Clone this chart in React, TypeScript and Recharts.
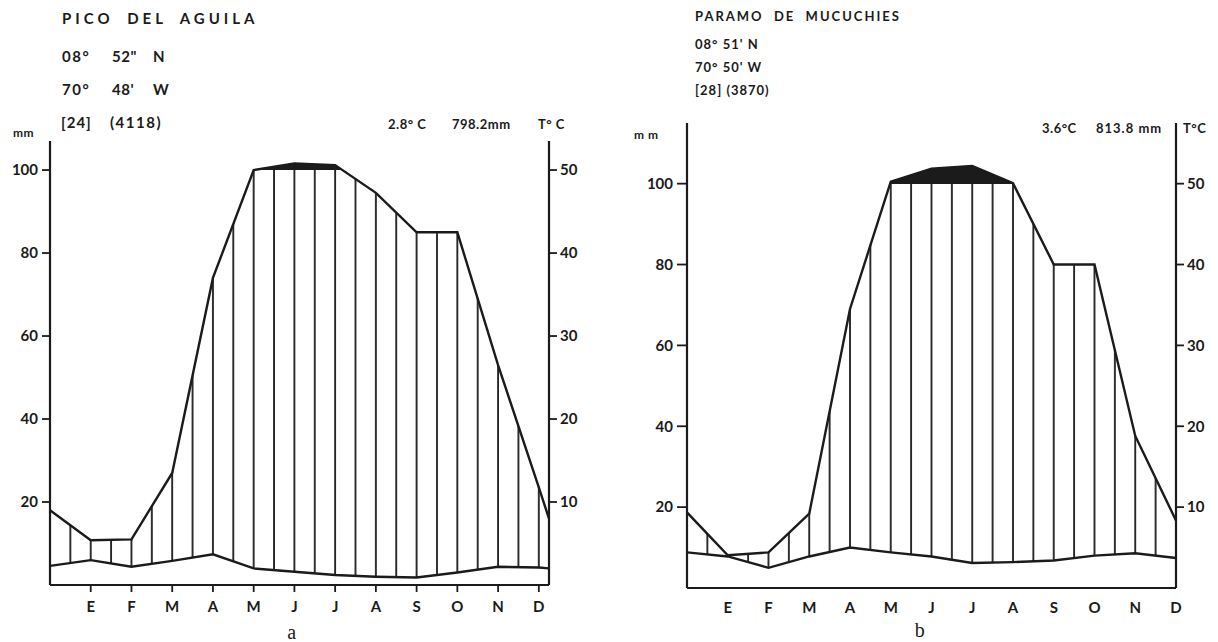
import React from "react";
import { ComposedChart, Area, Line, XAxis, YAxis } from "recharts";

// ---------- shared labels ----------
const MONTH_LABELS = ["E", "F", "M", "A", "M", "J", "J", "A", "S", "O", "N", "D"];
const MONTH_TICKS = [1, 2, 3, 4, 5, 6, 7, 8, 9, 10, 11, 12];
const MM_TICKS = [20, 40, 60, 80, 100];
const TEMP_TICKS = [10, 20, 30, 40, 50];

// ---------- a: Pico del Aguila ----------
// x: 0 = left edge (previous December), 1..12 = E..D, last = right edge
const A_X = [0, 1, 2, 3, 4, 5, 6, 7, 8, 9, 10, 11, 12, 12.25];
const A_PRECIP = [18, 10.8, 11, 27, 74, 100, 116, 112, 94.5, 85, 85, 53, 23.5, 16]; // mm
const A_TEMP = [2.3, 3.0, 2.2, 2.9, 3.7, 2.0, 1.6, 1.2, 1.0, 0.9, 1.5, 2.2, 2.1, 2.0]; // °C

// ---------- b: Paramo de Mucuchies ----------
const B_X = [0, 1, 2, 3, 4, 5, 6, 7, 8, 9, 10, 11, 12];
const B_PRECIP = [18.7, 8.1, 8.8, 18.4, 69, 105, 137, 144, 101, 80, 80, 37.6, 16.7]; // mm
const B_TEMP = [4.4, 3.9, 2.5, 3.9, 5.0, 4.4, 3.9, 3.1, 3.2, 3.4, 4.0, 4.3, 3.7]; // °C

const INK = "#1b1b1b";
const FONT = "Lato, 'DejaVu Sans', sans-serif";

// Walter-Lieth: above 100 mm the precipitation scale is reduced 1:10
const compress = (v: number) => (v <= 100 ? v : 100 + (v - 100) / 10);

type DiagramProps = {
  id: string;
  xs: number[];
  precip: number[];
  temp: number[];
  xMax: number;
  width: number;
  height: number;
  margin: { top: number; right: number; bottom: number; left: number };
  leftW: number;
  rightW: number;
  mmMax: number;
  xTickLine: boolean;
  xTickMargin: number;
  yTickSize: number;
};

function Diagram(props: DiagramProps) {
  const { id, xs, precip, temp, xMax, width, height, margin, leftW, rightW, mmMax, xTickLine, xTickMargin, yTickSize } = props;
  const data = xs.map((x, i) => ({ x, p: compress(precip[i]), t: temp[i], t2: temp[i] * 2 }));
  const plotLeft = margin.left + leftW;
  const plotW = width - margin.left - margin.right - leftW - rightW;
  const half = plotW / xMax / 2;
  const pMax = Math.max(...data.map((d) => d.p));
  const cut = (pMax - 100) / pMax;
  const tickStyle = { fontSize: 15, fontWeight: 700, fill: INK, fontFamily: FONT };
  return (
    <ComposedChart width={width} height={height} data={data} margin={margin}>
      <defs>
        <pattern id={`hatch-${id}`} patternUnits="userSpaceOnUse" x={plotLeft - 1} y={0} width={half} height={height}>
          <line x1={1} y1={0} x2={1} y2={height} stroke={INK} strokeWidth={1.8} />
        </pattern>
        <linearGradient id={`black-${id}`} x1="0" y1="0" x2="0" y2="1">
          <stop offset={0} stopColor={INK} stopOpacity={1} />
          <stop offset={cut} stopColor={INK} stopOpacity={1} />
          <stop offset={cut} stopColor={INK} stopOpacity={0} />
          <stop offset={1} stopColor={INK} stopOpacity={0} />
        </linearGradient>
      </defs>
      <XAxis
        type="number"
        dataKey="x"
        domain={[0, xMax]}
        ticks={MONTH_TICKS}
        interval={0}
        tickFormatter={(v: number) => MONTH_LABELS[v - 1]}
        axisLine={{ stroke: INK, strokeWidth: 2.2 }}
        tickLine={xTickLine ? { stroke: INK, strokeWidth: 1.8 } : false}
        tickSize={7}
        tickMargin={xTickMargin}
        tick={tickStyle}
        height={30}
        allowDataOverflow
      />
      <YAxis
        yAxisId="p"
        orientation="left"
        domain={[0, mmMax]}
        ticks={MM_TICKS}
        interval={0}
        width={leftW}
        axisLine={{ stroke: INK, strokeWidth: 2.2 }}
        tickLine={{ stroke: INK, strokeWidth: 1.8 }}
        tickSize={yTickSize}
        tickMargin={4}
        tick={tickStyle}
        allowDataOverflow
      />
      <YAxis
        yAxisId="t"
        orientation="right"
        domain={[0, mmMax / 2]}
        ticks={TEMP_TICKS}
        interval={0}
        width={rightW}
        axisLine={{ stroke: INK, strokeWidth: 2.2 }}
        tickLine={{ stroke: INK, strokeWidth: 1.8 }}
        tickSize={8}
        tickMargin={3}
        tick={tickStyle}
        allowDataOverflow
      />
      <Area
        yAxisId="p"
        dataKey="p"
        type="linear"
        stroke="none"
        fill={`url(#black-${id})`}
        fillOpacity={1}
        isAnimationActive={false}
      />
      <Area
        yAxisId="p"
        dataKey={(d: any) => [d.t2, d.p]}
        type="linear"
        stroke="none"
        fill={`url(#hatch-${id})`}
        fillOpacity={1}
        isAnimationActive={false}
      />
      <Line yAxisId="p" dataKey="p" type="linear" stroke={INK} strokeWidth={2.4} dot={false} isAnimationActive={false} />
      <Line yAxisId="t" dataKey="t" type="linear" stroke={INK} strokeWidth={2.4} dot={false} isAnimationActive={false} />
    </ComposedChart>
  );
}

type T = { x: number; y: number; s: string; size?: number; ls?: number; ws?: number; anchor?: string; serif?: boolean; weight?: number };

const TEXTS: T[] = [
  // a
  { x: 62, y: 18, s: "PICO DEL AGUILA", size: 15, ls: 4, ws: 6 },
  { x: 62, y: 56, s: "08°", size: 15, ls: 1.5 },
  { x: 112, y: 56, s: "52\"", size: 15 },
  { x: 153, y: 56, s: "N", size: 15 },
  { x: 62, y: 89, s: "70°", size: 15, ls: 1.5 },
  { x: 112, y: 89, s: "48'", size: 15 },
  { x: 153, y: 89, s: "W", size: 15 },
  { x: 61, y: 122, s: "[24]", size: 15, ls: 1 },
  { x: 110, y: 122, s: "(4118)", size: 15, ls: 1.5 },
  { x: 13, y: 132, s: "mm", size: 12 },
  { x: 388, y: 124, s: "2.8° C", size: 13 },
  { x: 452, y: 124, s: "798.2mm", size: 13 },
  { x: 538, y: 124, s: "T° C", size: 13 },
  // b
  { x: 695, y: 16, s: "PARAMO  DE  MUCUCHIES", size: 13, ls: 2 },
  { x: 695, y: 44, s: "08° 51' N", size: 13, ls: 1 },
  { x: 695, y: 67, s: "70° 50' W", size: 13, ls: 1 },
  { x: 695, y: 90, s: "[28] (3870)", size: 13, ls: 1 },
  { x: 634, y: 134, s: "m m", size: 12 },
  { x: 1042, y: 128, s: "3.6°C", size: 13 },
  { x: 1096, y: 128, s: "813.8 mm", size: 13, ls: 1 },
  { x: 1183, y: 128, s: "T°C", size: 13 },
  // captions
  { x: 292, y: 632, s: "a", size: 20, anchor: "middle", serif: true, weight: 400 },
  { x: 920, y: 630, s: "b", size: 20, anchor: "middle", serif: true, weight: 400 },
];

export default function App() {
  return (
    <div style={{ position: "absolute", left: 0, top: 0, width: 1218, height: 642, background: "#fff", overflow: "hidden" }}>
      <div style={{ position: "absolute", left: 0, top: 0 }}>
        <Diagram
          id="a"
          xs={A_X}
          precip={A_PRECIP}
          temp={A_TEMP}
          xMax={12.25}
          width={600}
          height={642}
          margin={{ top: 141, right: 11, bottom: 27, left: 0 }}
          leftW={50}
          rightW={40}
          mmMax={107}
          xTickLine={true}
          xTickMargin={9}
          yTickSize={8}
        />
      </div>
      <div style={{ position: "absolute", left: 609, top: 0 }}>
        <Diagram
          id="b"
          xs={B_X}
          precip={B_PRECIP}
          temp={B_TEMP}
          xMax={12}
          width={609}
          height={642}
          margin={{ top: 123, right: 2, bottom: 24, left: 0 }}
          leftW={78}
          rightW={40}
          mmMax={115}
          xTickLine={false}
          xTickMargin={7}
          yTickSize={10}
        />
      </div>
      <svg width={1218} height={642} style={{ position: "absolute", left: 0, top: 0, pointerEvents: "none" }}>
        {TEXTS.map((t, i) => (
          <text
            key={i}
            x={t.x}
            y={t.y}
            fontSize={t.size ?? 14}
            fontWeight={t.weight ?? 700}
            fontFamily={t.serif ? "'Liberation Serif', 'DejaVu Serif', serif" : FONT}
            fill={INK}
            textAnchor={(t.anchor as any) ?? "start"}
            dominantBaseline="central"
            letterSpacing={t.ls ?? 0.5}
            wordSpacing={t.ws ?? 0}
            style={{ whiteSpace: "pre" }}
          >
            {t.s}
          </text>
        ))}
      </svg>
    </div>
  );
}
